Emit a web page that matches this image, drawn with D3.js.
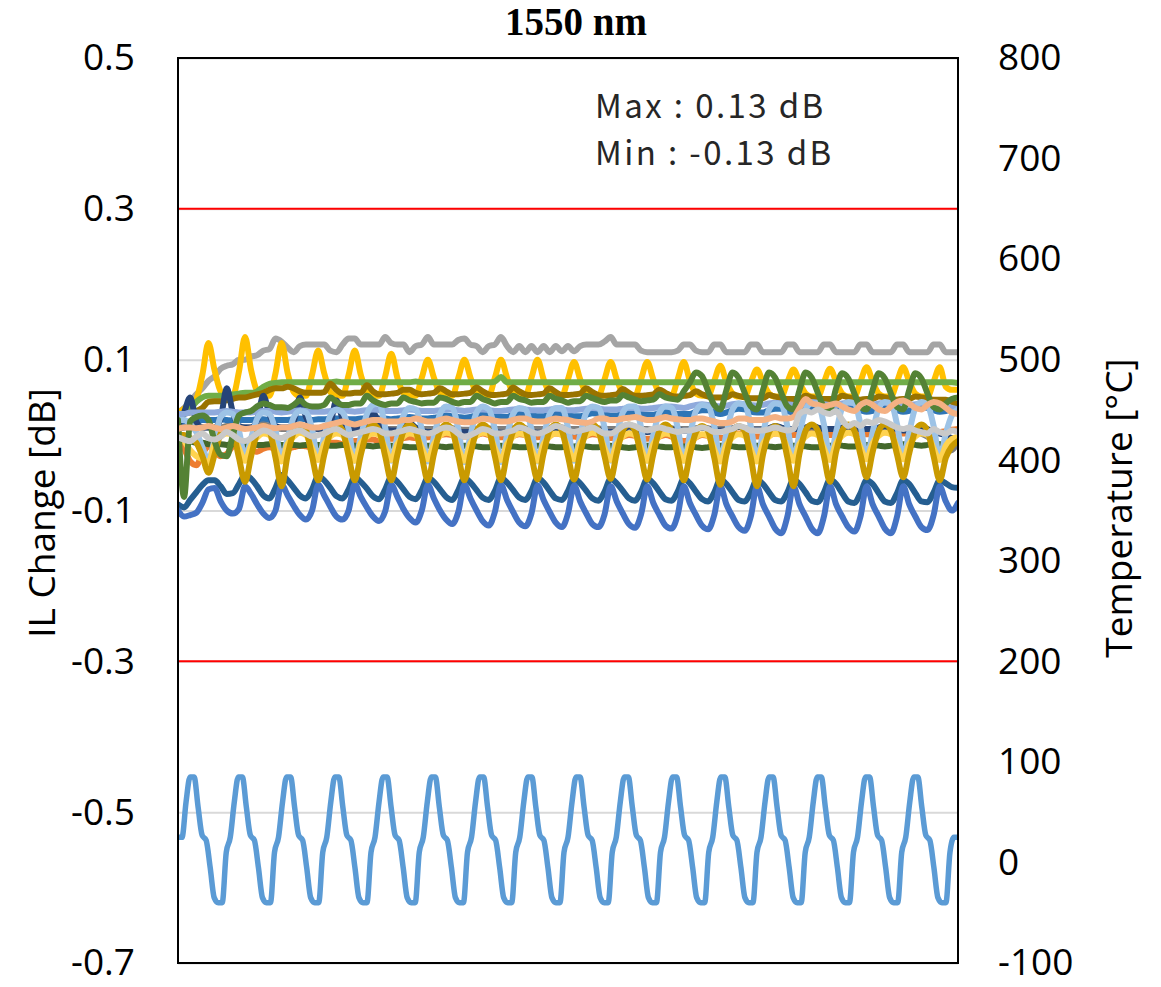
<!DOCTYPE html>
<html>
<head>
<meta charset="utf-8">
<script src="https://cdn.jsdelivr.net/npm/d3@7"></script>
<style>
  html, body { margin: 0; padding: 0; background: #ffffff; }
  svg { display: block; }
</style>
</head>
<body>
<svg id="chart" width="1161" height="987"></svg>
<script>
// Insertion-loss change of each port, in mdB, one sample per measurement step
const ilOrange = [
  -5,-18,-35,-40,-25,-15, -20,-28,-25,-15,-12,-18, -20,-22,-18,-16,-18,-20,
  -18,-16,-14,-15,-16,-14, -12,-10,-10,-12,-10,-8, -8,-6,-6,-8,-6,-5,
  -5,-4,-3,-4,-4,-3, -2,0,1,0,-2,-2, -2,0,2,0,-3,-3,
  -3,-1,1,0,-2,-3, -2,0,2,1,-2,-2, -3,-1,1,0,-3,-4,
  -4,-2,0,-1,-4,-5, -4,-2,0,-2,-6,-8, -6,-3,0,-1,-3,-4,
  -3,0,2,1,-1,-2, -2,0,2,2,0,0, 0,2,3,2,0,0,
  0,2,4,3,1,1, 1,3,4,3,2,2, 2,4,5,4,3,4,
  5,7,8
];
const ilGrayTop = [
  30,36,44,54,62,72, 78,88,92,94,100,100, 104,106,112,114,128,124,
  116,110,118,120,120,120, 120,112,110,120,128,128, 120,120,120,120,130,122,
  120,120,110,118,120,130, 120,120,120,120,126,128, 120,118,110,118,120,130,
  118,110,118,110,118,110, 118,110,118,111,118,111, 118,120,120,120,124,130,
  120,120,120,120,112,110, 110,110,110,110,112,120, 120,112,110,110,120,120,
  110,110,110,110,120,120, 110,110,110,110,120,120, 110,110,110,110,120,120,
  110,110,110,110,120,120, 110,110,110,110,120,120, 110,110,110,110,120,120,
  110,110,110
];
const ilYellow = [
  30,35,42,48,80,122, 86,58,52,52,84,130, 86,58,52,52,82,122,
  82,57,52,52,80,112, 82,57,52,52,80,112, 80,57,52,52,78,108,
  76,56,52,52,76,100, 76,56,52,52,76,100, 76,56,52,52,76,100,
  76,56,52,52,76,100, 74,56,52,52,74,97, 74,56,52,52,74,97,
  74,56,52,52,74,97, 74,56,52,52,74,97, 72,55,52,52,72,92,
  70,55,51,51,70,87, 70,55,51,51,70,87, 70,55,51,51,70,88,
  71,55,51,51,71,90, 71,55,51,51,71,90, 71,55,51,51,71,90,
  64,60,60
];
const ilMidBlue = [
  14,16,18,18,20,20, 20,21,20,19,20,20, 20,21,21,20,20,20,
  20,21,22,21,20,21, 21,22,22,22,21,21, 22,22,23,22,22,21,
  22,23,24,23,22,22, 23,24,26,25,24,23, 24,26,28,28,26,24,
  24,27,28,28,26,25, 25,27,29,28,26,25, 25,27,29,28,27,26,
  26,28,30,30,28,27, 27,29,31,30,28,28, 28,31,33,33,30,28,
  30,33,35,34,31,30, 30,33,35,35,32,30, 31,34,36,35,32,30,
  32,35,37,36,33,31, 32,35,37,36,33,31, 32,35,37,36,33,31,
  32,34,35
];
const ilGreen = [
  20,28,34,44,50,52, 52,52,53,54,55,56, 56,58,64,68,69,70,
  70,70,70,70,70,70, 70,70,71,70,70,70, 70,70,70,70,70,70,
  70,70,70,71,70,70, 70,70,70,70,70,70, 70,70,70,70,71,77,
  70,70,70,70,70,70, 70,70,70,70,70,70, 70,70,70,70,70,70,
  70,70,70,70,70,70, 70,70,70,70,70,70, 70,70,70,70,70,70,
  70,70,70,70,70,70, 70,70,70,70,70,70, 70,70,70,70,70,70,
  70,70,70,70,70,70, 70,70,70,70,70,70, 70,70,70,70,70,70,
  70,70,69
];
const ilDarkGray = [
  8,10,12,12,10,10, 10,10,12,12,11,10, 10,12,14,12,10,8,
  8,10,12,10,8,8, 8,9,10,9,8,8, 8,9,10,9,8,8,
  8,9,11,9,8,8, 8,9,10,9,8,7, 7,8,10,9,8,8,
  8,9,10,9,8,8, 8,9,11,10,8,8, 8,9,10,9,8,8,
  8,9,10,9,8,8, 7,8,10,9,8,8, 8,9,10,9,8,8,
  8,9,11,9,8,8, 8,9,10,9,8,8, 8,9,10,9,8,8,
  8,9,10,9,8,8, 8,9,10,9,8,7, 6,4,2,-2,-8,-14,
  -22,-20,-10
];
const ilOlive = [
  20,28,30,32,36,44, 45,45,46,48,50,50, 52,54,56,60,62,62,
  64,62,58,56,56,56, 57,68,60,55,55,56, 56,66,58,54,54,55,
  56,60,60,56,54,55, 56,62,58,54,54,55, 56,63,58,54,53,54,
  55,63,58,54,53,54, 55,62,57,53,53,54, 55,62,57,53,52,53,
  54,61,56,52,52,53, 54,60,56,52,51,52, 53,58,54,51,50,50,
  50,54,52,50,49,49, 49,53,51,49,48,48, 48,52,50,48,48,48,
  48,52,50,48,47,48, 48,51,50,48,47,48, 48,51,50,48,47,47,
  47,44,40
];
const ilNavy = [
  12,30,50,18,10,10, 10,22,62,30,12,10, 10,20,52,28,12,10,
  10,18,50,24,10,8, 8,16,46,22,10,8, 8,12,30,16,8,6,
  6,8,16,10,6,4, 4,6,10,6,4,4, 4,6,10,6,4,3,
  3,5,9,6,4,3, 3,5,9,6,4,4, 4,6,10,7,4,4,
  4,6,12,8,4,4, 5,7,10,8,6,6, 6,8,10,8,6,6,
  6,8,11,9,7,7, 7,9,12,10,8,8, 8,10,12,10,8,8,
  8,10,12,10,8,8, 8,10,12,10,8,6, 6,8,10,8,4,2,
  0,-4,-4
];
const ilTeal = [
  -92,-96,-86,-76,-66,-60, -60,-68,-78,-77,-65,-53, -58,-68,-80,-84,-70,-53,
  -60,-70,-80,-84,-72,-55, -60,-70,-81,-84,-72,-56, -62,-71,-81,-85,-72,-56,
  -62,-72,-82,-85,-73,-57, -62,-72,-82,-86,-73,-57, -63,-73,-83,-86,-74,-57,
  -63,-73,-83,-86,-74,-57, -63,-74,-84,-86,-74,-58, -64,-74,-84,-87,-75,-58,
  -64,-74,-84,-87,-75,-58, -64,-75,-85,-87,-75,-58, -64,-75,-85,-88,-76,-59,
  -65,-76,-86,-88,-76,-59, -65,-76,-86,-88,-76,-59, -65,-76,-87,-89,-76,-59,
  -65,-77,-88,-90,-77,-60, -65,-77,-88,-90,-77,-60, -65,-77,-88,-89,-76,-60,
  -64,-69,-70
];
const ilBlue = [
  -100,-108,-106,-103,-90,-72, -70,-88,-100,-104,-98,-68, -78,-92,-104,-110,-100,-66,
  -80,-94,-106,-112,-100,-66, -80,-95,-108,-112,-100,-65, -82,-96,-108,-114,-101,-66,
  -82,-98,-110,-116,-100,-66, -84,-100,-112,-118,-102,-66, -84,-100,-114,-120,-102,-66,
  -86,-102,-116,-121,-104,-67, -86,-102,-116,-122,-104,-67, -88,-104,-118,-122,-105,-68,
  -88,-104,-118,-123,-105,-68, -90,-106,-120,-124,-106,-68, -90,-106,-120,-125,-106,-68,
  -92,-108,-122,-127,-108,-68, -92,-108,-124,-130,-108,-68, -92,-108,-124,-130,-108,-68,
  -92,-108,-122,-128,-108,-68, -92,-108,-124,-130,-108,-68, -92,-108,-122,-126,-106,-68,
  -88,-100,-90
];
const ilDeepGreen = [
  0,-4,-8,-10,-10,-12, -12,-12,-13,-12,-12,-12, -12,-13,-13,-12,-12,-13,
  -13,-13,-14,-13,-13,-13, -13,-14,-14,-13,-13,-14, -14,-14,-15,-14,-14,-14,
  -14,-15,-16,-16,-15,-14, -14,-15,-16,-15,-15,-14, -14,-15,-16,-16,-15,-14,
  -15,-15,-16,-16,-15,-14, -14,-15,-16,-16,-15,-15, -14,-15,-16,-16,-15,-14,
  -15,-16,-17,-16,-15,-14, -14,-15,-16,-16,-15,-15, -15,-16,-17,-16,-15,-14,
  -14,-15,-16,-16,-15,-14, -14,-15,-16,-15,-14,-14, -14,-15,-16,-16,-15,-14,
  -13,-14,-15,-15,-14,-13, -13,-14,-15,-14,-13,-12, -12,-13,-14,-13,-12,-12,
  -12,-10,-10
];
const ilSteelBlue = [
  28,28,30,30,30,30, 30,31,32,31,30,30, 30,31,32,32,31,30,
  31,32,33,32,31,31, 31,32,33,33,32,31, 32,33,34,33,32,32,
  32,33,34,33,32,32, 32,33,34,34,33,32, 33,34,34,33,32,32,
  33,34,35,34,33,33, 33,34,35,34,33,33, 34,35,36,35,34,34,
  34,35,36,36,35,35, 36,37,38,38,37,36, 38,40,41,40,39,38,
  39,41,42,41,40,39, 40,42,43,42,41,40, 40,42,44,43,41,40,
  40,42,43,42,41,40, 40,42,43,42,40,40, 40,41,42,41,40,39,
  38,36,34
];
const ilLightBlue = [
  20,20,14,4,-16,-34, -6,24,30,28,6,-30, -4,22,30,28,6,-32,
  -4,24,32,30,8,-32, -2,26,34,30,8,-34, -2,28,40,42,10,-34,
  -2,26,36,34,8,-35, -2,28,38,36,8,-36, 0,30,38,34,8,-36,
  0,28,36,34,8,-35, -2,28,36,36,10,-34, 0,30,38,36,10,-34,
  0,30,38,38,10,-34, 0,30,38,36,10,-34, 0,32,40,38,12,-33,
  2,34,42,40,12,-32, 2,34,42,40,12,-32, 2,34,42,42,14,-30,
  4,36,44,42,14,-30, 4,36,44,42,14,-30, 4,36,44,40,12,-30,
  2,26,34
];
const ilLightGold = [
  0,-8,-20,-28,-32,-36, -12,-2,2,0,-18,-34, -14,-3,2,0,-20,-35,
  -12,-2,3,0,-18,-33, -12,-2,2,0,-18,-34, -11,-2,2,0,-18,-33,
  -12,-2,2,0,-17,-32, -12,-1,3,1,-18,-34, -11,-1,3,1,-18,-33,
  -12,-2,2,0,-18,-34, -12,-2,2,0,-17,-32, -11,-1,3,1,-18,-33,
  -12,-2,2,0,-18,-34, -12,-2,2,0,-18,-34, -13,-3,1,-1,-19,-35,
  -13,-3,1,-1,-19,-35, -12,-2,2,0,-18,-34, -12,-2,2,0,-18,-33,
  -11,-1,3,1,-17,-32, -11,-1,3,1,-17,-32, -12,-2,2,0,-18,-33,
  -14,-5,-2
];
const ilMustard = [
  0,0,-4,-10,-28,-50, -26,2,10,4,-30,-62, -28,3,12,6,-30,-68,
  -26,4,12,6,-28,-60, -26,4,14,6,-28,-60, -26,4,14,6,-28,-60,
  -26,5,14,6,-28,-60, -25,5,14,7,-28,-60, -25,5,14,7,-28,-60,
  -25,5,14,7,-28,-59, -24,6,14,6,-28,-59, -24,6,14,6,-28,-58,
  -24,6,14,6,-28,-59, -25,6,14,6,-28,-60, -26,4,12,5,-30,-66,
  -26,4,12,5,-30,-68, -26,4,12,5,-30,-68, -24,6,14,6,-28,-62,
  -22,6,14,6,-26,-56, -22,6,14,6,-26,-56, -24,6,14,6,-28,-60,
  -30,-15,-8
];
const ilDarkGreen = [
  20,-82,18,24,26,20, -8,-26,-28,0,26,30, 32,38,42,40,37,37,
  36,40,46,40,38,38, 40,50,44,40,40,42, 42,52,46,42,40,42,
  42,50,46,44,42,43, 43,50,48,44,42,44, 44,52,48,45,42,44,
  44,52,48,46,43,44, 44,52,48,46,43,45, 45,52,49,46,44,46,
  46,53,50,47,45,46, 47,54,50,48,47,58, 70,83,78,58,40,34,
  60,83,76,56,38,34, 60,83,76,56,38,34, 60,83,76,56,38,34,
  62,82,75,55,37,34, 60,82,75,55,37,34, 60,82,75,55,37,34,
  42,48,50
];
const ilPeach = [
  8,10,10,9,10,12, 10,8,10,12,10,8, 9,10,12,10,9,10,
  10,12,14,12,10,10, 12,14,16,18,16,14, 16,18,20,20,18,18,
  18,20,20,22,20,18, 18,20,22,20,18,17, 17,19,22,21,19,18,
  18,20,22,22,19,18, 18,20,22,21,20,18, 17,16,18,22,22,20,
  20,22,23,24,22,20, 20,22,24,22,21,20, 20,22,22,20,18,16,
  16,18,22,22,20,20, 20,22,24,22,22,24, 36,48,42,40,38,40,
  42,38,34,32,40,44, 40,34,32,38,44,46, 42,36,34,40,44,42,
  36,30,28
];
const ilLightGray = [
  -3,-6,-8,-2,2,-4, -6,-2,4,0,-6,-8, -4,2,6,4,-2,-4,
  0,4,6,2,-2,0, 2,6,8,4,0,2, 4,6,8,6,2,2,
  4,6,8,6,4,2, 4,8,10,8,2,-2, 0,4,8,6,2,2,
  4,6,10,8,4,2, 4,8,12,10,6,4, 6,8,10,6,2,2,
  6,12,14,12,8,6, 8,10,8,6,4,6, 6,8,10,8,4,4,
  6,8,12,10,6,6, 6,8,10,8,6,8, 28,32,30,34,30,28,
  32,20,12,16,12,18, 16,20,18,14,10,8, 10,6,4,2,8,4,
  2,6,4
];

// Chamber temperature profile in °C (+85 / -40 cycling with 25 °C dwell)
const temperature = [
  25,
  25,60,85,85,55,27,22,-5,-35,-40,-40,10,
  25,60,85,85,55,27,22,-5,-35,-40,-40,10,
  25,60,85,85,55,27,22,-5,-35,-40,-40,10,
  25,60,85,85,55,27,22,-5,-35,-40,-40,10,
  25,60,85,85,55,27,22,-5,-35,-40,-40,10,
  25,60,85,85,55,27,22,-5,-35,-40,-40,10,
  25,60,85,85,55,27,22,-5,-35,-40,-40,10,
  25,60,85,85,55,27,22,-5,-35,-40,-40,10,
  25,60,85,85,55,27,22,-5,-35,-40,-40,10,
  25,60,85,85,55,27,22,-5,-35,-40,-40,10,
  25,60,85,85,55,27,22,-5,-35,-40,-40,10,
  25,60,85,85,55,27,22,-5,-35,-40,-40,10,
  25,60,85,85,55,27,22,-5,-35,-40,-40,10,
  25,60,85,85,55,27,22,-5,-35,-40,-40,10,
  25,60,85,85,55,27,22,-5,-35,-40,-40,10,
  25,60,85,85,55,27,22,-5,-35,-40,-40,10,
  25,25
];

// Axis ticks and the ±0.3 dB limit lines
const ilTicks = [0.5, 0.3, 0.1, -0.1, -0.3, -0.5, -0.7];
const tempTicks = [800, 700, 600, 500, 400, 300, 200, 100, 0, -100];
const limitLines = [0.3, -0.3];

// Traces in drawing order, bottom to top
const traces = [
  { values: ilOrange,    color: "#ED7D31" },
  { values: ilGrayTop,   color: "#A5A5A5" },
  { values: ilYellow,    color: "#FFC000" },
  { values: ilMidBlue,   color: "#2E75B6" },
  { values: ilGreen,     color: "#70AD47" },
  { values: ilDarkGray,  color: "#7F7F7F" },
  { values: ilOlive,     color: "#997300" },
  { values: ilNavy,      color: "#264478" },
  { values: ilTeal,      color: "#255E91" },
  { values: ilBlue,      color: "#4472C4" },
  { values: ilDeepGreen, color: "#43682B" },
  { values: ilSteelBlue, color: "#8FAADC" },
  { values: ilLightBlue, color: "#9DC3E6" },
  { values: ilLightGold, color: "#FFD34F" },
  { values: ilMustard,   color: "#C99A00" },
  { values: ilDarkGreen, color: "#548235" },
  { values: ilPeach,     color: "#F4B183" },
  { values: ilLightGray, color: "#C9C9C9" }
];

const svg = d3.select("#chart");
const area = { left: 178, right: 958, top: 58, bottom: 963 };

const x = d3.scaleLinear().domain([0, ilBlue.length - 1]).range([area.left, area.right]);
const xT = d3.scaleLinear().domain([0, temperature.length - 1]).range([area.left, area.right]);
const y = d3.scaleLinear().domain([-0.7, 0.5]).range([area.bottom, area.top]);
const yT = d3.scaleLinear().domain([-100, 800]).range([area.bottom, area.top]);

const sansFont = "'Open Sans', 'Noto Sans', sans-serif";

// Horizontal gridlines
svg.append("g")
  .attr("transform", `translate(${area.left},0)`)
  .call(d3.axisLeft(y).tickValues(ilTicks).tickSize(-(area.right - area.left)).tickFormat(""))
  .call(g => g.select(".domain").remove())
  .call(g => g.selectAll("line").attr("stroke", "#D9D9D9").attr("stroke-width", 2));

// Limit lines
svg.append("g").selectAll("line")
  .data(limitLines)
  .join("line")
  .attr("x1", area.left).attr("x2", area.right)
  .attr("y1", d => y(d)).attr("y2", d => y(d))
  .attr("stroke", "#FF0000").attr("stroke-width", 2);

svg.append("clipPath").attr("id", "plot-clip")
  .append("rect")
  .attr("x", area.left).attr("y", area.top)
  .attr("width", area.right - area.left).attr("height", area.bottom - area.top);

const ilLine = d3.line()
  .x((d, i) => x(i))
  .y(d => y(d / 1000))
  .curve(d3.curveMonotoneX);

const tempLine = d3.line()
  .x((d, i) => xT(i))
  .y(d => yT(d))
  .curve(d3.curveMonotoneX);

const lines = svg.append("g").attr("clip-path", "url(#plot-clip)");

lines.selectAll("path.il")
  .data(traces)
  .join("path")
  .attr("class", "il")
  .attr("d", d => ilLine(d.values))
  .attr("fill", "none")
  .attr("stroke", d => d.color)
  .attr("stroke-width", 6)
  .attr("stroke-linejoin", "round")
  .attr("stroke-linecap", "round");

lines.append("path")
  .attr("d", tempLine(temperature))
  .attr("fill", "none")
  .attr("stroke", "#5B9BD5")
  .attr("stroke-width", 5.5)
  .attr("stroke-linejoin", "round");

// Plot frame
svg.append("rect")
  .attr("x", area.left).attr("y", area.top)
  .attr("width", area.right - area.left).attr("height", area.bottom - area.top)
  .attr("fill", "none").attr("stroke", "#000000").attr("stroke-width", 2);

// Left axis labels
svg.append("g")
  .attr("transform", `translate(${area.left},0)`)
  .call(d3.axisLeft(y).tickValues(ilTicks).tickSize(0).tickPadding(43).tickFormat(d => d.toFixed(1)))
  .call(g => g.select(".domain").remove())
  .call(g => g.selectAll("text")
    .attr("fill", "#000").style("font-family", sansFont).style("font-size", "37px"));

// Right axis labels
svg.append("g")
  .attr("transform", `translate(${area.right},0)`)
  .call(d3.axisRight(yT).tickValues(tempTicks).tickSize(0).tickPadding(40).tickFormat(d => String(d)))
  .call(g => g.select(".domain").remove())
  .call(g => g.selectAll("text")
    .attr("fill", "#000").style("font-family", sansFont).style("font-size", "37px"));

// Axis titles
svg.append("text")
  .attr("transform", "translate(40,513) rotate(-90)")
  .attr("text-anchor", "middle").attr("dominant-baseline", "central")
  .style("font-family", sansFont).style("font-size", "37px")
  .text("IL Change [dB]");

svg.append("text")
  .attr("transform", "translate(1117,508) rotate(-90)")
  .attr("text-anchor", "middle").attr("dominant-baseline", "central")
  .style("font-family", sansFont).style("font-size", "37px")
  .text("Temperature [°C]");

// Chart title
svg.append("text")
  .attr("x", 576).attr("y", 35)
  .attr("text-anchor", "middle")
  .style("font-family", "'Liberation Serif', 'Times New Roman', serif")
  .style("font-weight", "bold").style("font-size", "39px")
  .text("1550 nm");

// Extremes of all IL traces
const allIl = traces.flatMap(t => t.values);
const ilMax = d3.max(allIl) / 1000;
const ilMin = d3.min(allIl) / 1000;

const note = svg.append("g")
  .style("font-family", "'Noto Sans CJK JP', 'Noto Sans', sans-serif")
  .style("font-size", "33px")
  .style("letter-spacing", "2.4px")
  .attr("fill", "#262626");
note.append("text").attr("x", 595).attr("y", 118).text(`Max : ${ilMax.toFixed(2)} dB`);
note.append("text").attr("x", 595).attr("y", 165).text(`Min : ${ilMin.toFixed(2)} dB`);
</script>
</body>
</html>
